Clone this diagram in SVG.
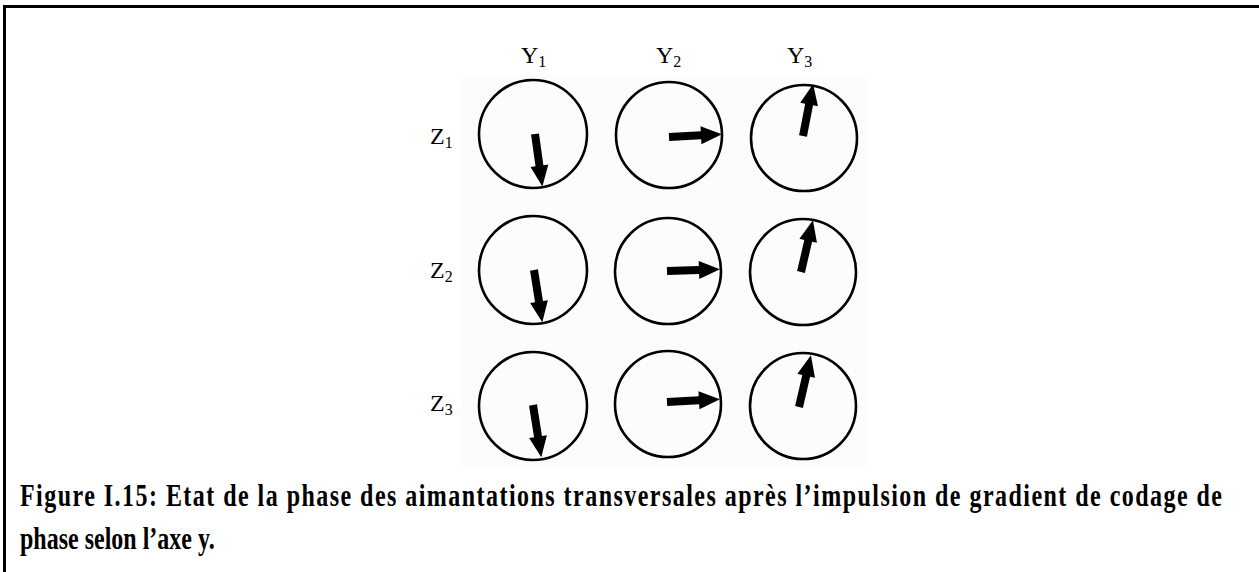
<svg xmlns="http://www.w3.org/2000/svg" width="1259" height="572" viewBox="0 0 1259 572">
<defs>
<style>
.lbl{font-family:"Liberation Serif","Times New Roman",serif;font-size:24px;fill:#000}
.sub{font-size:16px}
.cap{font-family:"Liberation Serif","Times New Roman",serif;font-size:24px;font-weight:bold;fill:#000}
.ring{fill:none;stroke:#000;stroke-width:2.6}
.arr{fill:#000;stroke:none}
</style>
<path id="a" class="arr" d="M0,-4 L32,-4 L32,-9 L53,0 L32,9 L32,4 L0,4 Z"/>
</defs>
<rect x="0" y="0" width="1259" height="572" fill="#fff"/>
<g id="frame">
<line x1="4.5" y1="6.5" x2="1259" y2="6.5" stroke="#000" stroke-width="3"/>
<line x1="4.5" y1="5" x2="4.5" y2="572" stroke="#000" stroke-width="3"/>
</g>
<rect id="panel" x="461" y="76" width="406" height="392" fill="#fbfcfb"/>
<g id="labels">
<text class="lbl" x="521" y="63">Y<tspan class="sub" dy="4">1</tspan></text>
<text class="lbl" x="656" y="63">Y<tspan class="sub" dy="4">2</tspan></text>
<text class="lbl" x="787" y="63">Y<tspan class="sub" dy="4">3</tspan></text>
<text class="lbl" x="430" y="144">Z<tspan class="sub" dy="4">1</tspan></text>
<text class="lbl" x="430" y="278">Z<tspan class="sub" dy="4">2</tspan></text>
<text class="lbl" x="430" y="411">Z<tspan class="sub" dy="4">3</tspan></text>
</g>
<g id="r1c1"><circle class="ring" cx="533" cy="134" r="54"/><use href="#a" transform="translate(535,134) rotate(82)"/></g>
<g id="r1c2"><circle class="ring" cx="669" cy="135" r="53"/><use href="#a" transform="translate(669,137) rotate(-3)"/></g>
<g id="r1c3"><circle class="ring" cx="804" cy="138" r="53"/><use href="#a" transform="translate(803,136) rotate(-79)"/></g>
<g id="r2c1"><circle class="ring" cx="533" cy="270" r="54"/><use href="#a" transform="translate(534,270) rotate(81)"/></g>
<g id="r2c2"><circle class="ring" cx="668" cy="271" r="53"/><use href="#a" transform="translate(667,271) rotate(-2)"/></g>
<g id="r2c3"><circle class="ring" cx="803" cy="272" r="53"/><use href="#a" transform="translate(801,272) rotate(-77)"/></g>
<g id="r3c1"><circle class="ring" cx="533" cy="406" r="54"/><use href="#a" transform="translate(533,405) rotate(81)"/></g>
<g id="r3c2"><circle class="ring" cx="668" cy="404" r="53"/><use href="#a" transform="translate(667,402) rotate(-3)"/></g>
<g id="r3c3"><circle class="ring" cx="803" cy="406" r="53"/><use href="#a" transform="translate(799,407) rotate(-77)"/></g>
<g id="caption">
<text class="cap" transform="translate(20,506) scale(1,1.3)" x="0" y="0" textLength="1202" lengthAdjust="spacing">Figure I.15: Etat de la phase des aimantations transversales après l’impulsion de gradient de codage de</text>
<text class="cap" transform="translate(20,549) scale(1,1.3)" x="0" y="0">phase selon l’axe y.</text>
</g>
</svg>
